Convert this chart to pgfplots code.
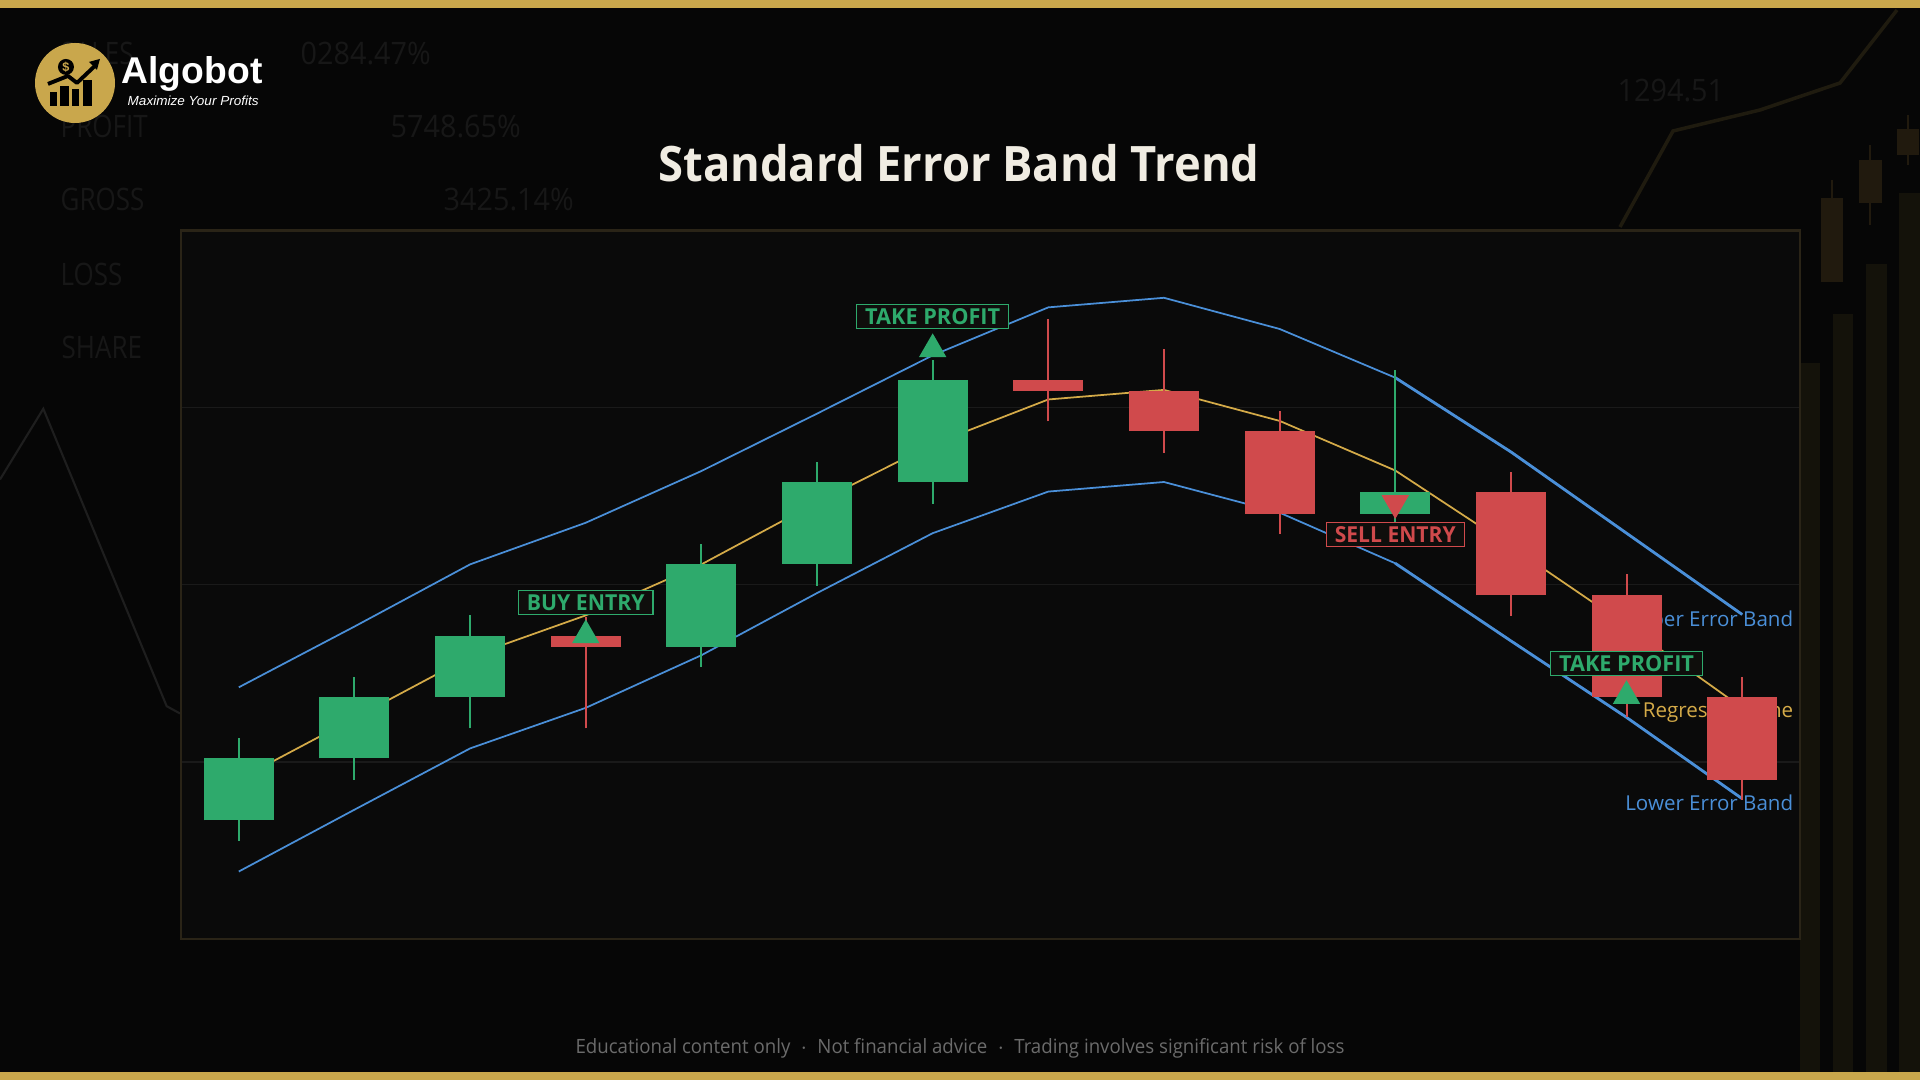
\documentclass[border=0pt]{standalone}
\usepackage{pgfplots}
\pgfplotsset{compat=1.18}
\usepackage{pgfplotstable}
\usepackage{graphicx}
\usepackage{fontspec}
\setmainfont{Open Sans}
\newfontfamily\logofont{Liberation Sans}

\definecolor{bg}{HTML}{060606}
\definecolor{plotbg}{HTML}{0A0A0A}
\definecolor{framec}{HTML}{2A2417}
\definecolor{gridc}{HTML}{1A1A1A}
\definecolor{cgreen}{HTML}{2EAA6C}
\definecolor{cred}{HTML}{D04A4C}
\definecolor{cblue}{HTML}{4A8FD8}
\definecolor{cyellow}{HTML}{D4AA48}
\definecolor{gold}{HTML}{C9A74C}
\definecolor{titlec}{HTML}{F0ECE2}
\definecolor{footc}{HTML}{6B6B6B}
\definecolor{faint}{HTML}{171717}
\definecolor{boxbg}{HTML}{0F0E0C}
\definecolor{barc}{HTML}{14120A}
\definecolor{candc}{HTML}{211A0E}

\newsavebox\fitbox
\newlength\fitlen
\newcommand\fitw[2]{\sbox\fitbox{#2}\setlength\fitlen{\wd\fitbox}\pgfmathsetmacro\fitfac{#1/\the\fitlen}\scalebox{\fitfac}[1]{\usebox\fitbox}}

% candles: x open high low close
\pgfplotstableread{
x O H L C
0 67 113.5 55.4 102
1 102 148 90 136.6
2 136.6 182.9 118.9 171
4 165 223.2 153.5 211.7
5 211.7 269.3 199.4 257.8
6 257.8 326.9 245.8 315.5
10 240.1 321.2 235 252.3
}\greencandles
\pgfplotstableread{
x O H L C
3 171 182 118.9 165
7 315.5 350 292.3 309.5
8 309.5 333.1 274.5 286.7
9 286.7 298.3 228.8 240.1
11 252.3 263.6 182.6 194
12 194 206.1 125.1 136.6
13 136.6 148 78.7 90
}\redcandles
\pgfplotstableread{
x U R L
0 142.1 90.1 38.1
1 176.4 124.7 73
2 211.5 159.5 107.6
3 235 182.7 130.5
4 264.2 211.5 160.2
5 296.6 246.5 195.3
6 329.5 279.3 229.1
7 356.6 304.6 252.6
8 362 310 258
9 344.4 292.5 240.7
10 316.9 264.5 212.1
11 275 221.6 168.3
12 229.1 177.1 125.1
13 183.2 130.5 79.2
}\bands

\begin{document}
\begin{tikzpicture}
\useasboundingbox (0,0) rectangle (19.2,10.8);
\fill[bg] (0,0) rectangle (19.2,10.8);

% faint background decoration
\begin{scope}
\node[anchor=base west, text=faint, inner sep=0] at (0.60,10.15) {\fontsize{8.8}{10}\selectfont\scalebox{0.84}[1]{SALES}};
\node[anchor=base west, text=faint, inner sep=0] at (3.00,10.15) {\fontsize{8.8}{10}\selectfont\scalebox{0.93}[1]{0284.47\%}};
\node[anchor=base west, text=faint, inner sep=0] at (0.60,9.42) {\fontsize{8.8}{10}\selectfont\scalebox{0.84}[1]{PROFIT}};
\node[anchor=base west, text=faint, inner sep=0] at (3.90,9.42) {\fontsize{8.8}{10}\selectfont\scalebox{0.93}[1]{5748.65\%}};
\node[anchor=base west, text=faint, inner sep=0] at (0.60,8.69) {\fontsize{8.8}{10}\selectfont\scalebox{0.84}[1]{GROSS}};
\node[anchor=base west, text=faint, inner sep=0] at (4.43,8.69) {\fontsize{8.8}{10}\selectfont\scalebox{0.93}[1]{3425.14\%}};
\node[anchor=base west, text=faint, inner sep=0] at (0.60,7.94) {\fontsize{8.8}{10}\selectfont\scalebox{0.84}[1]{LOSS}};
\node[anchor=base west, text=faint, inner sep=0] at (0.61,7.21) {\fontsize{8.8}{10}\selectfont\scalebox{0.84}[1]{SHARE}};
\node[anchor=base west, text=faint, inner sep=0] at (16.17,9.78) {\fontsize{8.8}{10}\selectfont\scalebox{0.93}[1]{1294.51}};
\draw[faint!140!bg, line width=0.6pt] (0,6.005) -- (0.433,6.712) -- (1.667,3.738) -- (1.80,3.665);
% right side bars
\fill[barc] (18.00,0.08) rectangle (18.20,7.17);
\fill[barc] (18.33,0.08) rectangle (18.53,7.66);
\fill[barc] (18.66,0.08) rectangle (18.87,8.16);
\fill[barc] (18.99,0.08) rectangle (19.20,8.87);
\fill[candc] (18.21,7.98) rectangle (18.43,8.82);
\draw[candc, line width=0.6pt] (18.32,8.82) -- (18.32,9.0);
\fill[candc] (18.59,8.77) rectangle (18.82,9.20);
\draw[candc, line width=0.6pt] (18.70,8.55) -- (18.70,9.35);
\fill[candc] (18.97,9.25) rectangle (19.19,9.51);
\draw[candc, line width=0.6pt] (19.08,9.15) -- (19.08,9.65);
\draw[gold!13!bg, line width=1.0pt] (16.20,8.53) -- (16.73,9.49) -- (17.60,9.70) -- (18.40,9.97) -- (18.97,10.70);
\end{scope}

% gold bars
\fill[gold] (0,10.717) rectangle (19.2,10.8);
\fill[gold] (0,0) rectangle (19.2,0.083);

% logo
\fill[gold] (0.75,9.97) circle (0.40);
\begin{scope}[shift={(0,10.8)}, x=0.01cm, y=-0.01cm]
\fill[black] (50,92) rectangle (57,106);
\fill[black] (60,86) rectangle (69,106);
\fill[black] (72,89) rectangle (79,106);
\fill[black] (83,80) rectangle (92,106);
\draw[black, line width=1.1pt, line join=round] (48,84) -- (68,76) -- (77,83) -- (96,65);
\fill[black] (100,59) -- (89,62) -- (97,70) -- cycle;
\fill[black] (66,67) circle (8);
\node[text=gold, inner sep=0] at (66,67) {\logofont\bfseries\fontsize{3.6}{4}\selectfont\$};
\end{scope}
\node[anchor=base west, text=white, inner sep=0] at (1.21,9.96) {\logofont\bfseries\fontsize{10.6}{12}\selectfont Algobot};
\node[anchor=base west, text=white, inner sep=0] at (1.27,9.747) {\logofont\itshape\fontsize{3.75}{4.5}\selectfont\fitw{1.31cm}{Maximize Your Profits}};

% title
\node[anchor=base, text=titlec, inner sep=0] at (9.59,8.983) {\fontsize{13.9}{16}\selectfont\bfseries\fitw{6.01cm}{Standard Error Band Trend}};

% footer
\node[anchor=base, text=footc, inner sep=0] at (9.60,0.26) {\fontsize{5.6}{7}\selectfont\fitw{7.69cm}{Educational content only \ $\cdot$\ \ Not financial advice \ $\cdot$\ \ Trading involves significant risk of loss}};

\begin{axis}[
  at={(1.81cm,1.41cm)}, anchor=south west,
  width=16.19cm, height=7.085cm, scale only axis,
  xmin=-0.5, xmax=13.5, ymin=0, ymax=400,
  axis background/.style={fill=plotbg},
  axis line style={draw=framec, line width=0.6pt},
  xtick=\empty, ytick={100,200,300}, yticklabels={},
  major tick length=0pt,
  ymajorgrids, grid style={draw=gridc, line width=0.4pt},
  candle/.style={draw=none, no markers, error bars/.cd, y dir=plus, y explicit, error mark=none},
]
% bands and regression
\addplot[cblue, line width=0.5pt, mark=none] table[x=x, y=U] {\bands};
\addplot[cblue, line width=0.5pt, mark=none] table[x=x, y=L] {\bands};
\addplot[cblue, line width=0.8pt, mark=none] coordinates {(10,316.9) (11,275) (12,229.1) (13,183.2)};
\addplot[cblue, line width=0.8pt, mark=none] coordinates {(10,212.1) (11,168.3) (12,125.1) (13,79.2)};
\addplot[cyellow, line width=0.5pt, mark=none] table[x=x, y=R] {\bands};
% line labels
\node[anchor=base east, text=cblue, inner sep=0] at (axis cs:13.447,176.3) {\fontsize{5.85}{7}\selectfont Upper Error Band};
\node[anchor=base east, text=cyellow, inner sep=0] at (axis cs:13.447,125) {\fontsize{5.85}{7}\selectfont Regression Line};
\node[anchor=base east, text=cblue, inner sep=0] at (axis cs:13.447,72.5) {\fontsize{5.85}{7}\selectfont Lower Error Band};
% wicks
\addplot[candle, error bar style={draw=cgreen, line width=0.02cm}]
  table[x=x, y=L, y error plus expr={\thisrow{H}-\thisrow{L}}] {\greencandles};
\addplot[candle, error bar style={draw=cred, line width=0.02cm}]
  table[x=x, y=L, y error plus expr={\thisrow{H}-\thisrow{L}}] {\redcandles};
% bodies
\addplot[candle, error bar style={draw=cgreen, line width=0.70cm}]
  table[x=x, y=O, y error plus expr={\thisrow{C}-\thisrow{O}}] {\greencandles};
\addplot[candle, error bar style={draw=cred, line width=0.70cm}]
  table[x=x, y=C, y error plus expr={\thisrow{O}-\thisrow{C}}] {\redcandles};
% annotation boxes
\tikzset{ann/.style={draw=#1, text=#1, fill=boxbg, line width=0.35pt, inner xsep=2.4pt, inner ysep=0pt, minimum height=0.24cm}}
\node[ann=cgreen] at (axis cs:3,190) {\fontsize{6.26}{7}\selectfont\bfseries\fitw{1.177cm}{BUY ENTRY}};
\node[ann=cgreen] at (axis cs:6,351.4) {\fontsize{6.26}{7}\selectfont\bfseries\fitw{1.35cm}{TAKE PROFIT}};
\node[ann=cred] at (axis cs:10,228.4) {\fontsize{6.26}{7}\selectfont\bfseries\fitw{1.209cm}{SELL ENTRY}};
\node[ann=cgreen] at (axis cs:12,155.7) {\fontsize{6.26}{7}\selectfont\bfseries\fitw{1.35cm}{TAKE PROFIT}};
% signal markers
\addplot[only marks, mark=triangle*, mark size=4.1pt, color=cgreen] coordinates {(3,171.5) (6,333) (12,137.2)};
\addplot[only marks, mark=triangle*, mark size=4.1pt, color=cred, mark options={rotate=180}] coordinates {(10,246.1)};
\end{axis}
\end{tikzpicture}
\end{document}
